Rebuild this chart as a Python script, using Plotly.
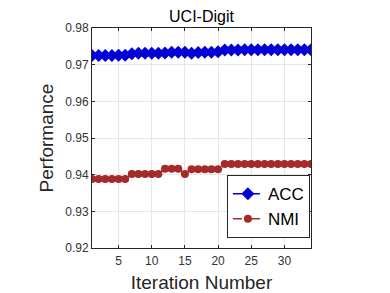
import plotly.graph_objects as go

iterations = list(range(1, 35))
acc = [0.9725, 0.9725, 0.9725, 0.9725, 0.9726, 0.9726,
       0.9730, 0.9731, 0.9731, 0.9731, 0.9731, 0.9732,
       0.9734, 0.9734, 0.9734,
       0.9731,
       0.9733, 0.9734, 0.9734, 0.9735,
       0.9740, 0.9740, 0.9740, 0.9741, 0.9741, 0.9741, 0.9741,
       0.9741, 0.9741, 0.9741, 0.9741, 0.9741, 0.9741, 0.9741]
nmi = [0.9388, 0.9388, 0.9388, 0.9388, 0.9388, 0.9388,
       0.9402, 0.9402, 0.9402, 0.9402, 0.9402,
       0.9416, 0.9416, 0.9416,
       0.9402,
       0.9415, 0.9415, 0.9415, 0.9415, 0.9415,
       0.9429, 0.9429, 0.9429, 0.9429, 0.9429, 0.9429, 0.9429,
       0.9429, 0.9429, 0.9429, 0.9429, 0.9429, 0.9429, 0.9429]
x_ticks = [5, 10, 15, 20, 25, 30]
y_ticks = [0.92, 0.93, 0.94, 0.95, 0.96, 0.97, 0.98]

blue = "rgb(0,0,215)"
red = "rgb(165,42,42)"

fig = go.Figure()
fig.add_trace(go.Scatter(x=iterations, y=acc, name="ACC", mode="lines+markers",
                         line=dict(color=blue, width=1.5, dash="dash"),
                         marker=dict(symbol="diamond", size=10, color=blue)))
fig.add_trace(go.Scatter(x=iterations, y=nmi, name="NMI", mode="lines+markers",
                         line=dict(color=red, width=1.5, dash="dash"),
                         marker=dict(symbol="circle", size=8, color=red)))

axis_common = dict(showline=True, linecolor="#262626", linewidth=1, mirror="ticks",
                   ticks="inside", ticklen=3, tickcolor="#262626", automargin=False,
                   showgrid=True, gridcolor="#e6e6e6", gridwidth=1, zeroline=False,
                   tickfont=dict(family="Liberation Sans, Arial", size=12, color="#333333"))

fig.update_xaxes(range=[1, 34], tickvals=x_ticks, ticklabelstandoff=2,
                 title=dict(text="Iteration Number", standoff=11,
                            font=dict(family="Liberation Sans, Arial", size=19, color="#262626")),
                 **axis_common)
fig.update_yaxes(range=[0.92, 0.98], tickvals=y_ticks, tickformat=".2f",
                 title=dict(text="Performance", standoff=6,
                            font=dict(family="Liberation Sans, Arial", size=19, color="#262626")),
                 **axis_common)

fig.update_layout(
    width=382, height=285,
    margin=dict(l=84, r=79, t=20, b=45, autoexpand=False),
    paper_bgcolor="white", plot_bgcolor="white",
    title=dict(text="UCI-Digit", x=0.5065, xanchor="center", y=0.972, yanchor="middle",
               automargin=False,
               font=dict(family="Liberation Sans, Arial", size=16, color="black")),
    legend=dict(x=0.995, xanchor="right", y=0.045, yanchor="bottom",
                bgcolor="white", bordercolor="#262626", borderwidth=1,
                font=dict(family="Liberation Sans, Arial", size=17, color="black"),
                itemwidth=30, tracegroupgap=0),
    showlegend=True,
)

fig.write_html("out.html")
